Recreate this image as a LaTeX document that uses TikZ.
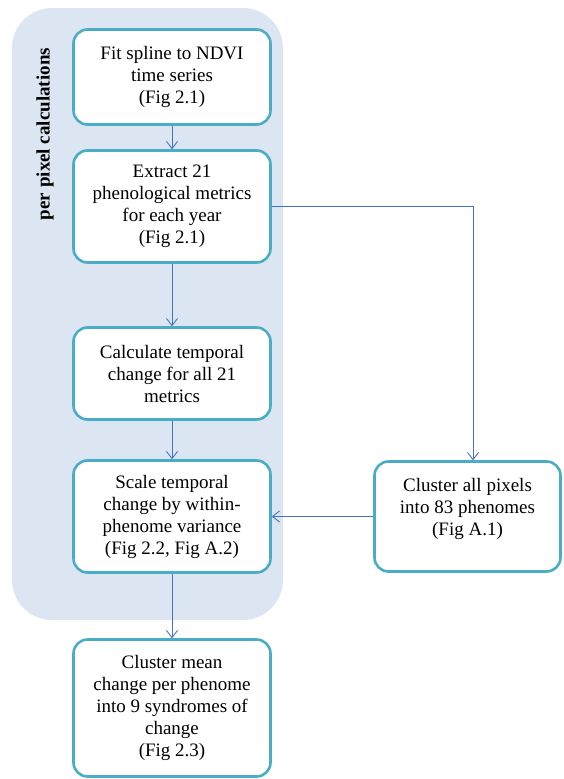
\documentclass[tikz,border=0pt]{standalone}
\usepackage{fontspec}
\setmainfont{Liberation Serif}
\usetikzlibrary{arrows.meta}
\definecolor{bgc}{HTML}{DCE6F2}
\definecolor{boxc}{HTML}{4BACC6}
\definecolor{arrc}{HTML}{4472C4}
\begin{document}
\begin{tikzpicture}[x=1pt,y=-1pt,
  box/.style={rectangle, draw=boxc, line width=2.6pt, rounded corners=14pt, fill=white,
    align=center, inner sep=2pt, minimum width=197pt, font=\fontsize{19}{22}\selectfont},
  arr/.style={draw=arrc, line width=0.9pt, -{Straight Barb[length=7pt,width=11pt]}}]
\useasboundingbox (0,0) rectangle (563,779);
\fill[bgc, rounded corners=40pt] (12,8) rectangle (283,620);
\node[rotate=90, font=\bfseries\fontsize{19}{22}\selectfont] (lab) at (45,134) {per pixel calculations};
\node[box, minimum height=95pt] (b1) at (172,77) {Fit spline to NDVI\\time series\\(Fig 2.1)};
\node[box, minimum height=112pt] (b2) at (172,206.5) {Extract 21\\phenological metrics\\for each year\\(Fig 2.1)};
\node[box, minimum height=92pt] (b3) at (172,373.5) {Calculate temporal\\change for all 21\\metrics};
\node[box, minimum height=112pt] (b4) at (172,516.5) {Scale temporal\\change by within-\\phenome variance\\(Fig 2.2, Fig A.2)};
\node[box, minimum height=137pt] (b5) at (172,708) {Cluster mean\\change per phenome\\into 9 syndromes of\\change\\(Fig 2.3)};
\node[box, minimum width=186pt, minimum height=110pt] (b6) at (467.5,516.5) {Cluster all pixels\\into 83 phenomes\\(Fig A.1)\\[-3pt]~};
\draw[arr] (b1) -- (b2);
\draw[arr] (b2) -- (b3);
\draw[arr] (b3) -- (b4);
\draw[arr] (b4) -- (b5);
\draw[arr] (b2.east) -| ([xshift=5.5pt]b6.north);
\draw[arr] (b6.west) -- (b4.east);
\end{tikzpicture}
\end{document}
